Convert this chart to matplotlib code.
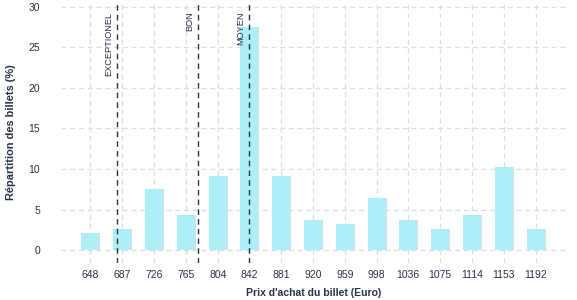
import matplotlib
matplotlib.use("Agg")
import matplotlib.pyplot as plt

prices = [648, 687, 726, 765, 804, 842, 881, 920, 959, 998, 1036, 1075, 1114, 1153, 1192]
shares = [2.1, 2.6, 7.5, 4.3, 9.1, 27.5, 9.1, 3.7, 3.2, 6.4, 3.7, 2.6, 4.3, 10.3, 2.6]
ref_labels = ["EXCEPTIONEL", "BON", "MOYEN"]
ref_values = [681, 780, 842]

plt.rcParams['font.family'] = ['Liberation Sans', 'DejaVu Sans']
navy = '#27324a'

fig = plt.figure(figsize=(5.77, 3.0), dpi=100)
ax = fig.add_axes([0.1057, 0.1233, 0.877, 0.870])

bw = 21.5
# subtle shadow
ax.bar([p + 1.2 for p in prices], shares, width=bw, color='#dcdcdc', zorder=2)
ax.bar(prices, shares, width=bw, color='#aeeef8', zorder=3)

for lab, v in zip(ref_labels, ref_values):
    ax.axvline(v, color=navy, linestyle=(0, (4, 3)), linewidth=1.0, zorder=4)
    ax.text(v - 5, 29.4, lab, rotation=90, ha='right', va='top', fontsize=6.6,
            color=navy, zorder=5)

ax.set_xlim(612.8, 1230)
ax.set_ylim(-1.6, 30.6)
ax.set_xticks(prices)
ax.set_xticklabels([str(p) for p in prices])
ax.set_yticks([0, 5, 10, 15, 20, 25, 30])
ax.tick_params(axis='both', length=0, labelsize=7.5, labelcolor=navy)
ax.tick_params(axis='x', pad=5)
ax.tick_params(axis='y', pad=15)
ax.grid(True, color='#dddddd', linestyle=(0, (4, 3)), linewidth=0.9, zorder=0)
ax.set_axisbelow(True)
for s in ax.spines.values():
    s.set_visible(False)

ax.set_xlabel("Prix d'achat du billet (Euro)", fontsize=7.5, fontweight='bold', color=navy, labelpad=6)
ax.set_ylabel("Répartition des billets (%)", fontsize=7.9, fontweight='bold', color=navy, labelpad=9)

fig.savefig("out.png", dpi=100)
